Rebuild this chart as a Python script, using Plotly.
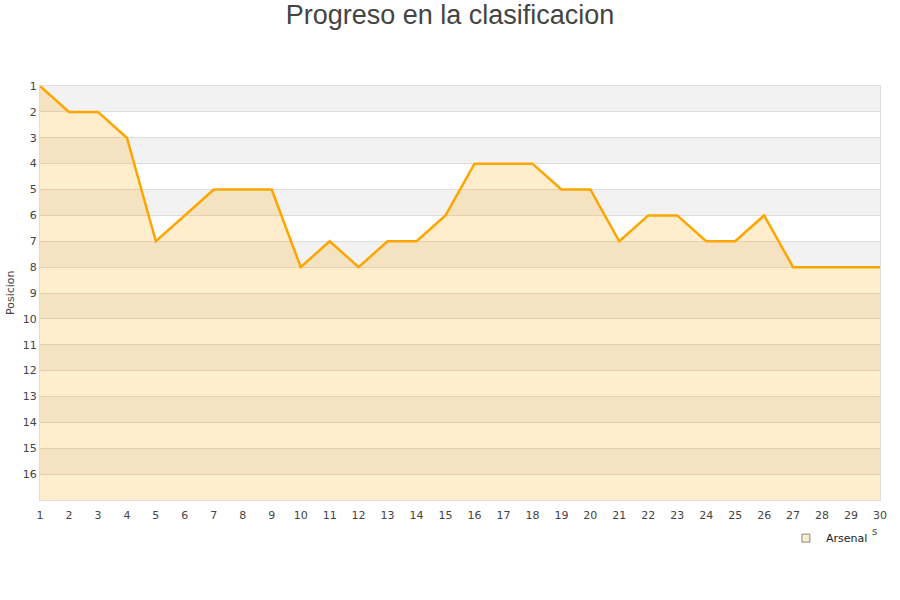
import plotly.graph_objects as go

jornadas = list(range(1, 31))
posiciones = [1, 2, 2, 3, 7, 6, 5, 5, 5, 8, 7, 8, 7, 7, 6,
              4, 4, 4, 5, 5, 7, 6, 6, 7, 7, 6, 8, 8, 8, 8]
y_ticks = list(range(1, 17))
equipo = 'Arsenal'
fondo = 17

fig = go.Figure()

# base line at the bottom so the area fills downwards on the reversed axis
fig.add_trace(go.Scatter(x=jornadas, y=[fondo] * len(jornadas), mode='lines',
                         line=dict(width=0), showlegend=False, hoverinfo='skip'))
fig.add_trace(go.Scatter(
    x=jornadas, y=posiciones, mode='lines', name=equipo, showlegend=False,
    line=dict(color='#ffa500', width=2.5),
    fill='tonexty', fillcolor='rgba(255,165,0,0.2)',
))
# legend entry: small square like the original
fig.add_trace(go.Scatter(
    x=[None], y=[None], mode='markers', name=equipo,
    marker=dict(symbol='square', size=8, color='#fdeccc',
                line=dict(color='#888', width=1)),
))

# alternating horizontal bands
for start in range(1, 16, 2):
    fig.add_hrect(y0=start, y1=start + 1, fillcolor='#f2f2f2', line_width=0, layer='below')

fig.update_layout(
    width=900, height=600,
    paper_bgcolor='white', plot_bgcolor='white',
    font=dict(family='DejaVu Sans', size=11, color='#444'),
    title=dict(text='Progreso en la clasificacion', x=0.5, xanchor='center',
               y=0.975, yanchor='middle',
               font=dict(family='Liberation Sans', size=27, color='#444')),
    margin=dict(l=40, r=20, t=86, b=100, autoexpand=False),
    showlegend=True,
    legend=dict(x=0.888, xanchor='left', y=-0.057, yanchor='top',
                font=dict(size=11, color='#222'), bgcolor='rgba(0,0,0,0)',
                itemwidth=30),
    xaxis=dict(range=[1, 30], tickvals=jornadas, showgrid=False, zeroline=False,
               showline=True, linecolor='#ddd', mirror=True,
               ticks='outside', ticklen=5, tickcolor='rgba(0,0,0,0)',
               tickfont=dict(size=11), automargin=False),
    yaxis=dict(range=[fondo, 1], tickvals=y_ticks, showgrid=True, gridcolor='#ddd',
               zeroline=False, showline=True, linecolor='#ddd', mirror=True,
               ticks='', tickfont=dict(size=11), automargin=False),
)

fig.add_annotation(x=-0.0357, y=0.5, xref='paper', yref='paper', text='Posicion',
                   textangle=-90, showarrow=False, xanchor='center',
                   font=dict(size=11, color='#444'))
fig.add_annotation(x=0.994, y=-0.077, xref='paper', yref='paper', text='s',
                   showarrow=False, xanchor='center', yanchor='middle',
                   font=dict(size=10, color='#444'))

# drop the default page margin so the figure sits at the window's corner
fig.write_html('out.html', config={'displayModeBar': False},
               post_script="document.body.style.margin='0';")
